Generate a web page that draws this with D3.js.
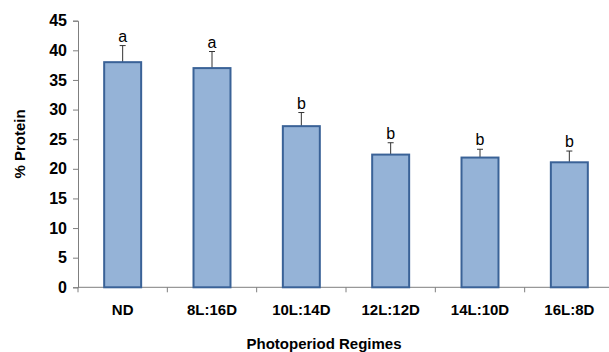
<!DOCTYPE html>
<html>
<head>
<meta charset="utf-8">
<script src="https://cdn.jsdelivr.net/npm/d3@7"></script>
<style>
  body { margin: 0; background: #fff; }
  svg { display: block; font-family: "Liberation Sans", Arial, sans-serif; }
</style>
</head>
<body>
<svg id="chart" width="609" height="352"></svg>
<script>
const regimes = ["ND", "8L:16D", "10L:14D", "12L:12D", "14L:10D", "16L:8D"];
const protein = [38.0, 37.0, 27.2, 22.4, 21.9, 21.1];
const errors = [2.8, 2.8, 2.3, 2.0, 1.4, 1.9];
const groups = ["a", "a", "b", "b", "b", "b"];
const yTicks = [0, 5, 10, 15, 20, 25, 30, 35, 40, 45];

const plotLeft = 78, plotRight = 614, plotTop = 20.7, plotBottom = 287.3;
const svg = d3.select("#chart");

const x = d3.scaleBand()
  .domain(regimes)
  .range([plotLeft, plotRight])
  .paddingInner(0.586)
  .paddingOuter(0.293);

const y = d3.scaleLinear()
  .domain([0, 45])
  .range([plotBottom, plotTop]);

// y axis
const yAxis = svg.append("g")
  .attr("transform", `translate(${plotLeft},0)`)
  .call(d3.axisLeft(y).tickValues(yTicks).tickSize(5).tickPadding(6));
yAxis.select(".domain").attr("stroke", "#7f7f7f");
yAxis.selectAll(".tick line").attr("stroke", "#7f7f7f");
yAxis.selectAll(".tick text")
  .attr("fill", "#000")
  .style("font-size", "16px")
  .style("font-weight", "bold");

// x axis line with ticks between categories
const step = x.step();
svg.append("line")
  .attr("x1", plotLeft).attr("x2", 609)
  .attr("y1", plotBottom).attr("y2", plotBottom)
  .attr("stroke", "#7f7f7f");
svg.selectAll(".xtick")
  .data(d3.range(regimes.length + 1))
  .enter().append("line")
  .attr("x1", i => plotLeft + i * step)
  .attr("x2", i => plotLeft + i * step)
  .attr("y1", plotBottom)
  .attr("y2", plotBottom + 5)
  .attr("stroke", "#7f7f7f");

svg.selectAll(".xlabel")
  .data(regimes)
  .enter().append("text")
  .attr("x", d => x(d) + x.bandwidth() / 2)
  .attr("y", 315)
  .attr("text-anchor", "middle")
  .style("font-size", "15px")
  .style("font-weight", "bold")
  .text(d => d);

// error bars
const ebar = svg.selectAll(".err")
  .data(regimes)
  .enter().append("g")
  .attr("stroke", "#333")
  .attr("stroke-width", 1);
ebar.append("line")
  .attr("x1", d => x(d) + x.bandwidth() / 2)
  .attr("x2", d => x(d) + x.bandwidth() / 2)
  .attr("y1", (d, i) => y(protein[i]))
  .attr("y2", (d, i) => y(protein[i] + errors[i]));
ebar.append("line")
  .attr("x1", d => x(d) + x.bandwidth() / 2 - 3)
  .attr("x2", d => x(d) + x.bandwidth() / 2 + 3)
  .attr("y1", (d, i) => y(protein[i] + errors[i]))
  .attr("y2", (d, i) => y(protein[i] + errors[i]));

// bars
svg.selectAll(".bar")
  .data(regimes)
  .enter().append("rect")
  .attr("x", d => x(d))
  .attr("y", (d, i) => y(protein[i]))
  .attr("width", x.bandwidth())
  .attr("height", (d, i) => y(0) - y(protein[i]))
  .attr("fill", "#95b3d7")
  .attr("stroke", "#3a6297")
  .attr("stroke-width", 2);

// significance letters
svg.selectAll(".sig")
  .data(regimes)
  .enter().append("text")
  .attr("x", d => x(d) + x.bandwidth() / 2)
  .attr("y", (d, i) => y(protein[i] + errors[i]) - 4)
  .attr("text-anchor", "middle")
  .style("font-size", "16px")
  .text((d, i) => groups[i]);

// axis titles
svg.append("text")
  .attr("transform", "translate(25,144) rotate(-90)")
  .attr("text-anchor", "middle")
  .style("font-size", "15px")
  .style("font-weight", "bold")
  .text("% Protein");

svg.append("text")
  .attr("x", 324)
  .attr("y", 349)
  .attr("text-anchor", "middle")
  .style("font-size", "15px")
  .style("font-weight", "bold")
  .text("Photoperiod Regimes");
</script>
</body>
</html>
